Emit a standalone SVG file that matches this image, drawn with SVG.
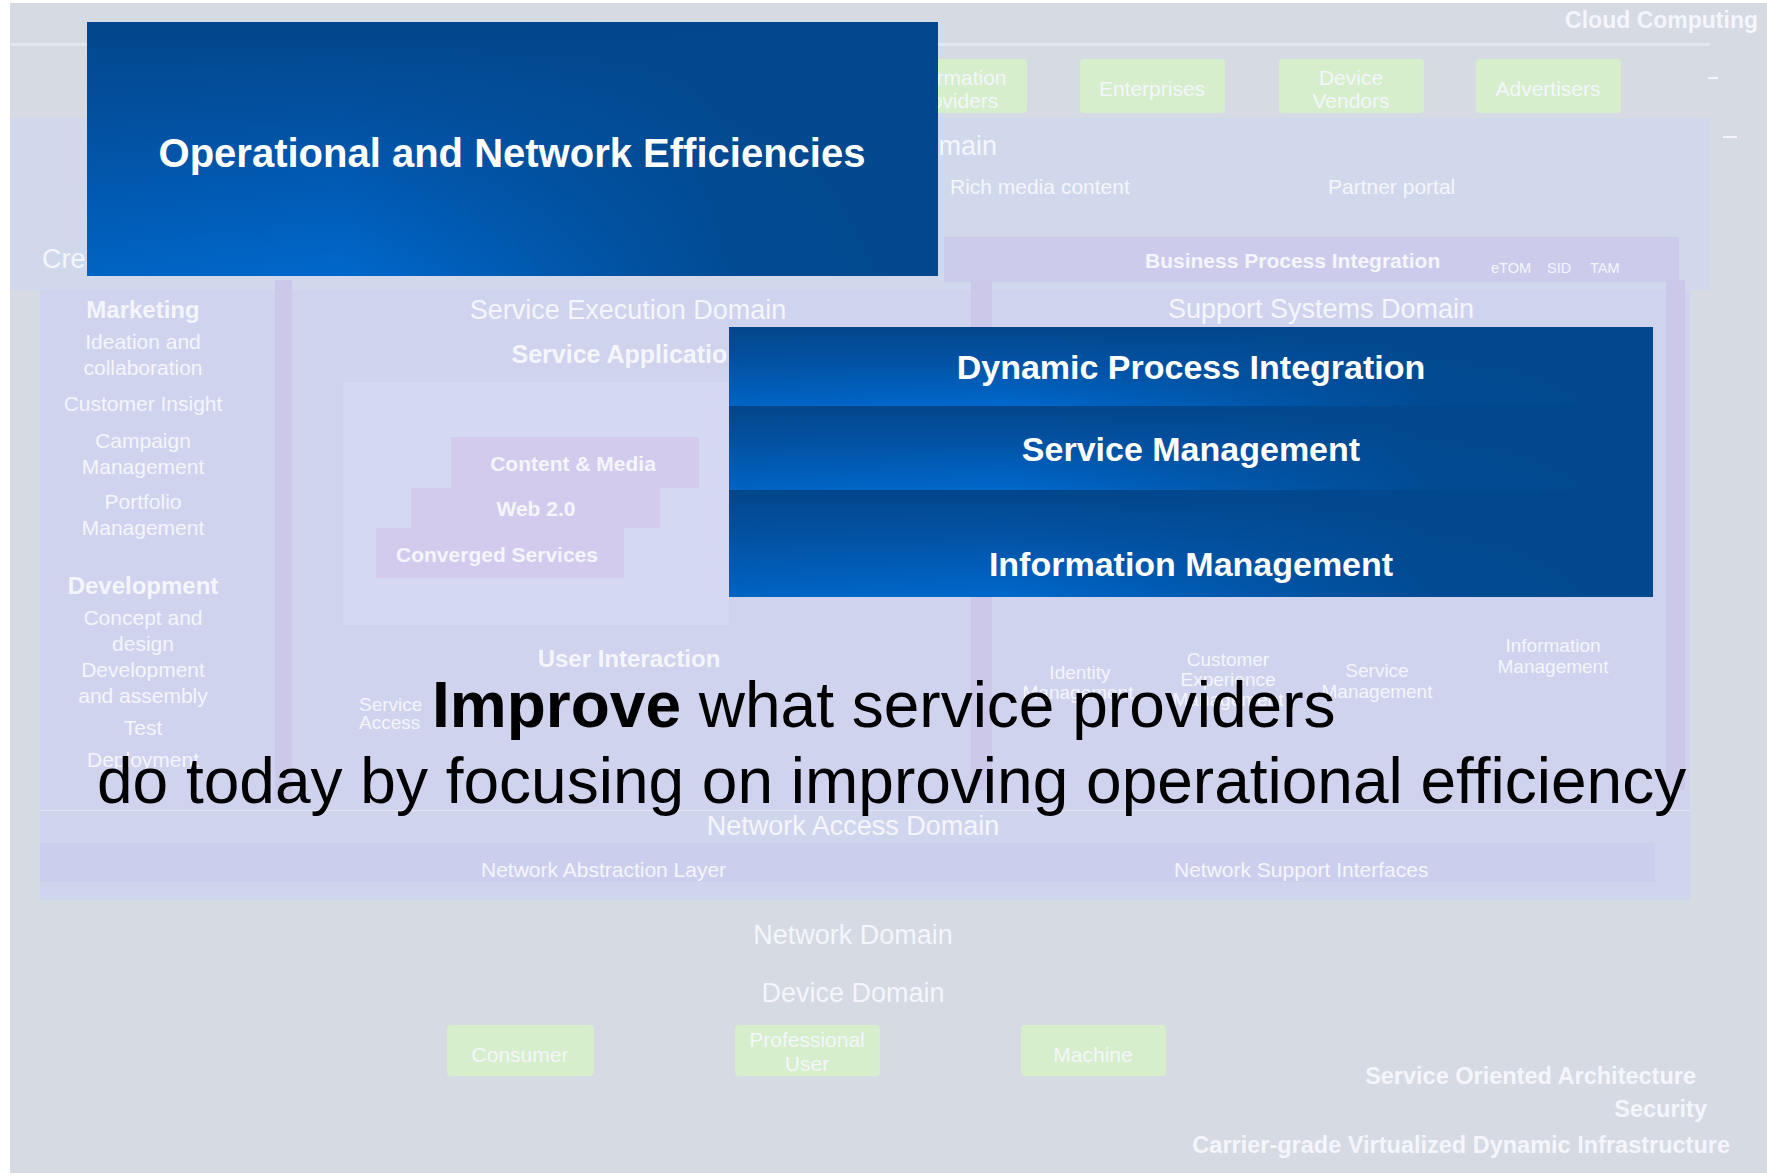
<svg xmlns="http://www.w3.org/2000/svg" width="1767" height="1176" viewBox="0 0 1767 1176">
<defs>
<linearGradient id="gv" x1="0" y1="0" x2="0" y2="1">
<stop offset="0" stop-color="#02468b"/>
<stop offset="0.35" stop-color="#0350a0"/>
<stop offset="1" stop-color="#0068cc"/>
</linearGradient>
<linearGradient id="gh" x1="0" y1="0" x2="1" y2="0">
<stop offset="0" stop-color="#02488e" stop-opacity="0.15"/>
<stop offset="0.3" stop-color="#02488e" stop-opacity="0"/>
<stop offset="0.75" stop-color="#02488e" stop-opacity="0.9"/>
<stop offset="1" stop-color="#02488e" stop-opacity="1"/>
</linearGradient>
<style>
.bg{font-family:"Liberation Sans",Arial,sans-serif;fill:#f4f6fc}
.b{font-weight:bold}
.c{text-anchor:middle}
.e{text-anchor:end}
.d{font-size:27px}
.s{font-size:19px}
.m{font-size:21px}
.h{font-size:24px;font-weight:bold}
.green{fill:#d6eecb}
.pur{fill:#d3cbee}
.blue{font-family:"Liberation Sans",Arial,sans-serif;fill:#ffffff;font-weight:bold;text-anchor:middle}
.big{font-family:"Liberation Sans",Arial,sans-serif;fill:#000000;font-size:64px}
</style>
</defs>

<g id="background">
<rect x="10" y="3" width="1757" height="1170" fill="#d5dae3"/>
<rect x="10" y="43" width="1700" height="3" fill="#e2e6ee"/>
<rect x="10" y="118" width="1700" height="172" fill="#d2d8ec"/>
<rect x="40" y="290" width="1650" height="520" fill="#cfd3ee"/>
<rect x="944" y="237" width="735" height="45" fill="#cccbec"/>
<rect x="275" y="280" width="17" height="520" fill="#ccc8ea"/>
<rect x="971" y="280" width="21" height="510" fill="#ccc8ea"/>
<rect x="1666" y="280" width="19" height="510" fill="#ccc8ea"/>
<rect x="343" y="382" width="386" height="243" fill="#d4d9f1"/>
<rect x="40" y="810" width="1650" height="90" fill="#d0d5ee"/>
<rect x="40" y="810" width="1650" height="1" fill="#e3e6f1"/>
<rect x="40" y="843" width="1615" height="39" fill="#cbcfed"/>
<rect x="1708" y="77" width="10" height="2" fill="#f4f6fc"/>
<rect x="1723" y="136" width="14" height="2" fill="#f4f6fc"/>
</g>

<g id="cloud-computing"><text class="bg b e" x="1758" y="28" font-size="23">Cloud Computing</text></g>

<g id="partner-domain">
<text class="bg d e" x="997" y="155">Third-Party Domain</text>
<text class="bg m" x="950" y="194">Rich media content</text>
<text class="bg m" x="1328" y="194">Partner portal</text>
</g>
<g id="information-providers"><rect class="green" x="882" y="59" width="145" height="54" rx="4"/><text class="bg m c" x="954" y="85">Information</text><text class="bg m c" x="954" y="108">Providers</text></g>
<g id="enterprises"><rect class="green" x="1080" y="59" width="145" height="54" rx="4"/><text class="bg m c" x="1152" y="96">Enterprises</text></g>
<g id="device-vendors"><rect class="green" x="1279" y="59" width="145" height="54" rx="4"/><text class="bg m c" x="1351" y="85">Device</text><text class="bg m c" x="1351" y="108">Vendors</text></g>
<g id="advertisers"><rect class="green" x="1476" y="59" width="145" height="54" rx="4"/><text class="bg m c" x="1548" y="96">Advertisers</text></g>

<g id="business-process-integration">
<text class="bg b" x="1145" y="268" font-size="21">Business Process Integration</text>
<text class="bg" x="1491" y="273" font-size="14.5">eTOM</text>
<text class="bg" x="1547" y="273" font-size="14.5">SID</text>
<text class="bg" x="1590" y="273" font-size="14.5">TAM</text>
</g>

<g id="creation-domain">
<text class="bg d" x="42" y="268">Creation Domain</text>
<text class="bg h c" x="143" y="318">Marketing</text>
<text class="bg m c" x="143" y="349">Ideation and</text>
<text class="bg m c" x="143" y="375">collaboration</text>
<text class="bg m c" x="143" y="411">Customer Insight</text>
<text class="bg m c" x="143" y="448">Campaign</text>
<text class="bg m c" x="143" y="474">Management</text>
<text class="bg m c" x="143" y="509">Portfolio</text>
<text class="bg m c" x="143" y="535">Management</text>
<text class="bg h c" x="143" y="594">Development</text>
<text class="bg m c" x="143" y="625">Concept and</text>
<text class="bg m c" x="143" y="651">design</text>
<text class="bg m c" x="143" y="677">Development</text>
<text class="bg m c" x="143" y="703">and assembly</text>
<text class="bg m c" x="143" y="735">Test</text>
<text class="bg m c" x="143" y="767">Deployment</text>
</g>

<g id="service-execution-domain">
<text class="bg d c" x="628" y="319">Service Execution Domain</text>
<text class="bg b c" x="634" y="363" font-size="25">Service Applications</text>
<text class="bg h c" x="629" y="667">User Interaction</text>
<text class="bg s" x="359" y="711">Service</text>
<text class="bg s" x="359" y="729">Access</text>
</g>
<g id="content-media"><rect class="pur" x="451" y="437" width="248" height="51"/><text class="bg b c" x="573" y="471" font-size="21">Content &amp; Media</text></g>
<g id="web20"><rect class="pur" x="411" y="488" width="249" height="40"/><text class="bg b c" x="536" y="516" font-size="21">Web 2.0</text></g>
<g id="converged-services"><rect class="pur" x="376" y="528" width="248" height="50"/><text class="bg b c" x="497" y="562" font-size="21">Converged Services</text></g>

<g id="support-systems-domain">
<text class="bg d c" x="1321" y="318">Support Systems Domain</text>
<text class="bg s c" x="1080" y="679">Identity</text>
<text class="bg s c" x="1078" y="699">Management</text>
<text class="bg s c" x="1228" y="666">Customer</text>
<text class="bg s c" x="1228" y="686">Experience</text>
<text class="bg s c" x="1228" y="706">Management</text>
<text class="bg s c" x="1377" y="677">Service</text>
<text class="bg s c" x="1377" y="698">Management</text>
<text class="bg s c" x="1553" y="652">Information</text>
<text class="bg s c" x="1553" y="673">Management</text>
</g>

<g id="network-access-domain">
<text class="bg d c" x="853" y="835">Network Access Domain</text>
<text class="bg m" x="481" y="877">Network Abstraction Layer</text>
<text class="bg m" x="1174" y="877">Network Support Interfaces</text>
</g>
<g id="network-domain"><text class="bg d c" x="853" y="944">Network Domain</text></g>
<g id="device-domain"><text class="bg d c" x="853" y="1002">Device Domain</text></g>
<g id="consumer"><rect class="green" x="447" y="1025" width="147" height="51" rx="4"/><text class="bg m c" x="520" y="1062">Consumer</text></g>
<g id="professional-user"><rect class="green" x="735" y="1025" width="145" height="51" rx="4"/><text class="bg m c" x="807" y="1047">Professional</text><text class="bg m c" x="807" y="1071">User</text></g>
<g id="machine"><rect class="green" x="1021" y="1025" width="145" height="51" rx="4"/><text class="bg m c" x="1093" y="1062">Machine</text></g>

<g id="foundations">
<text class="bg b e" x="1696" y="1084" font-size="23.5">Service Oriented Architecture</text>
<text class="bg b e" x="1707" y="1117" font-size="23.5">Security</text>
<text class="bg b e" x="1730" y="1153" font-size="23.5">Carrier-grade Virtualized Dynamic Infrastructure</text>
</g>

<g id="operational-network-efficiencies">
<rect x="87" y="22" width="851" height="254" fill="url(#gv)"/>
<rect x="87" y="22" width="851" height="254" fill="url(#gh)"/>
<text class="blue" x="512" y="167" font-size="40">Operational and Network Efficiencies</text>
</g>

<g id="dynamic-process-integration">
<rect x="729" y="327" width="924" height="79" fill="url(#gv)"/>
<rect x="729" y="327" width="924" height="79" fill="url(#gh)"/>
<text class="blue" x="1191" y="379" font-size="34">Dynamic Process Integration</text>
</g>
<g id="service-management">
<rect x="729" y="406" width="924" height="84" fill="url(#gv)"/>
<rect x="729" y="406" width="924" height="84" fill="url(#gh)"/>
<text class="blue" x="1191" y="461" font-size="34">Service Management</text>
</g>
<g id="information-management">
<rect x="729" y="490" width="924" height="107" fill="url(#gv)"/>
<rect x="729" y="490" width="924" height="107" fill="url(#gh)"/>
<text class="blue" x="1191" y="576" font-size="34">Information Management</text>
</g>

<g id="headline">
<text class="big" x="432" y="727"><tspan font-weight="bold">Improve</tspan> what service providers</text>
<text class="big" x="97" y="803">do today by focusing on improving operational efficiency</text>
</g>

<g id="connectors"/>
</svg>
